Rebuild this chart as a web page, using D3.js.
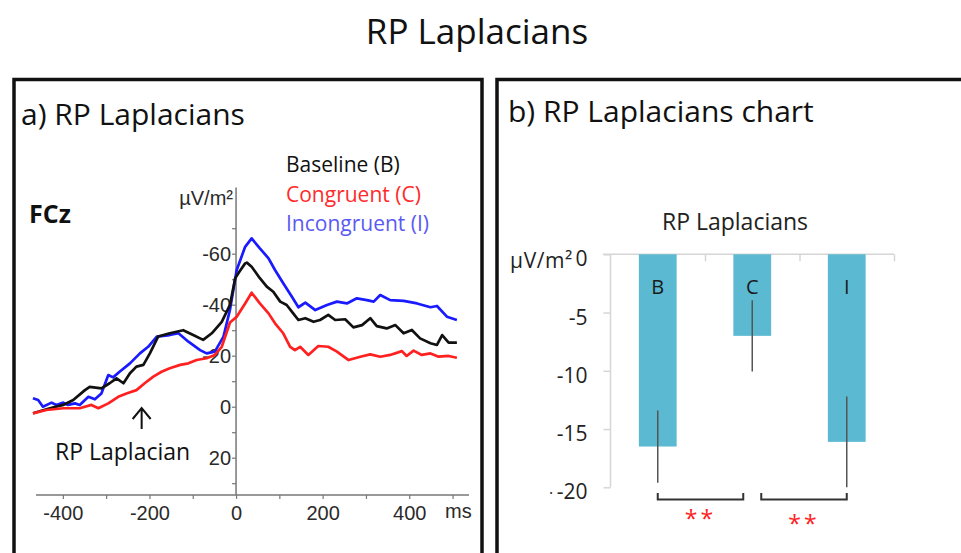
<!DOCTYPE html>
<html>
<head>
<meta charset="utf-8">
<script src="https://cdn.jsdelivr.net/npm/d3@7"></script>
<style>
  body { margin: 0; background: #fff; }
  svg { display: block; }
  text { font-family: "Open Sans", sans-serif; }
  .num text, text.num { font-family: "Liberation Sans", Arial, sans-serif; }
</style>
</head>
<body>
<svg id="chart" width="961" height="553"></svg>
<script>
// ---- data: RP Laplacian waveforms at FCz, [ms, µV/m²] (negative = up)
let baselineRP = [[-469, 2.6], [-430, 0.6], [-399, -0.7], [-376, -2.6], [-349, -6.5], [-338, -7.8], [-311, -7.2],
  [-292, -9.2], [-276, -11.1], [-260, -9.2], [-245, -13.1], [-230, -15.7], [-214, -16.4], [-199, -20.9],
  [-180, -27.5], [-153, -28.8], [-122, -30], [-99, -28.1], [-76, -26.2], [-56, -28.8], [-33, -33.3],
  [-14, -39.9], [-2, -50.4], [8, -53], [21, -56.2], [25, -56.5], [36, -54.9], [55, -50.4], [71, -47.1],
  [86, -45.1], [102, -41.2], [117, -39.9], [132, -36.6], [144, -34], [160, -34.7], [179, -33.3], [194, -34],
  [213, -36], [229, -34], [252, -34.3], [271, -31.1], [291, -32], [310, -34.7], [325, -31.6], [348, -30.7],
  [368, -32], [387, -28.8], [406, -30.1], [425, -26.8], [449, -24.9], [464, -24.2], [476, -28.1],
  [491, -25.1], [510, -25.1]];
let congruentRP = [[-469, 2.6], [-438, 1.3], [-399, 0.6], [-361, 0.6], [-334, -0.7], [-318, 0.6], [-295, -1.3],
  [-272, -3.9], [-253, -5.2], [-230, -6.5], [-211, -9.2], [-191, -11.8], [-172, -13.7], [-153, -15.1],
  [-129, -16.4], [-110, -17], [-91, -18.3], [-68, -19], [-49, -20.3], [-33, -23.5], [-14, -33], [1.5, -35.3],
  [21, -40.5], [36, -44.7], [55, -40.5], [75, -36.6], [90, -32.7], [109, -28.8], [125, -23.5], [136, -22.2],
  [148, -23.5], [167, -20.3], [190, -23.8], [213, -23.5], [233, -21.6], [260, -18.3], [287, -19.6],
  [310, -20.5], [333, -19.6], [356, -20.3], [383, -21.8], [394, -19.9], [410, -22], [429, -20.3],
  [449, -20.9], [468, -19.6], [491, -19.9], [510, -19.2]];
let incongruentRP = [[-469, -3.3], [-457, -2.6], [-446, 0], [-426, -1.6], [-415, -0.7], [-399, -1.6], [-388, -0.7],
  [-372, -1.3], [-361, -0.7], [-341, -3.9], [-326, -2.9], [-311, -5.2], [-295, -12.4], [-284, -11.5],
  [-269, -13.7], [-245, -17], [-222, -20.9], [-203, -23.5], [-183, -27.5], [-153, -28.1], [-133, -28.8],
  [-110, -25.5], [-83, -22.2], [-68, -20.9], [-49, -21.6], [-29, -27.5], [-14, -38], [1.5, -53.6],
  [21, -62.7], [36, -66], [55, -62.1], [75, -58.2], [90, -53.6], [109, -48.4], [129, -43.1], [144, -39],
  [160, -40.8], [183, -37.9], [210, -39.9], [233, -41.2], [256, -40.5], [279, -42.5], [302, -41.8],
  [318, -41.2], [333, -43.8], [356, -41.8], [387, -41.5], [418, -40.5], [449, -39], [464, -39.5],
  [487, -35.3], [510, -34]];
let seriesNames = ['Baseline (B)', 'Congruent (C)', 'Incongruent (I)'];
let msTicks = [-400, -300, -200, -100, 0, 100, 200, 300, 400, 500];
let uvTicks = [-70, -60, -50, -40, -30, -20, -10, 0, 10, 20, 30];

// ---- data: mean RP amplitude per condition
let categories = ['B', 'C', 'I'];
let barValues = [-16.5, -7.0, -16.1];
let barErrors = [3.1, 3.05, 3.9];
let barTicks = [0, -5, -10, -15, -20];

let svg = d3.select('#chart');
let lineColors = ['#111111', '#ff2020', '#1a1aff'];
let legendColors = ['#111111', '#ff2a2a', '#5a5af2'];

// main title + panel frames
svg.append('text').attr('x', 477).attr('y', 44).attr('text-anchor', 'middle')
  .style('font-size', '35px').attr('fill', '#111').text('RP Laplacians');
svg.append('rect').attr('x', 14).attr('y', 79.5).attr('width', 468).attr('height', 520)
  .attr('fill', 'none').attr('stroke', '#111').attr('stroke-width', 3.5);
svg.append('rect').attr('x', 497).attr('y', 79.5).attr('width', 520).attr('height', 520)
  .attr('fill', 'none').attr('stroke', '#111').attr('stroke-width', 3.5);
svg.append('text').attr('x', 21).attr('y', 125).style('font-size', '30px').attr('fill', '#111')
  .text('a) RP Laplacians');
svg.append('text').attr('x', 508).attr('y', 122).style('font-size', '30px').attr('fill', '#111')
  .text('b) RP Laplacians chart');

// ================= panel a: waveforms
let x = d3.scaleLinear().domain([-462, 538]).range([36, 469]);
let y = d3.scaleLinear().domain([-86, 34]).range([187.4, 493.4]);

let xAxis = svg.append('g').attr('class', 'num').attr('transform', 'translate(0,' + y(34.6) + ')')
  .call(d3.axisBottom(x).tickValues(msTicks).tickSize(4).tickPadding(7)
    .tickFormat(function(d){ return d % 200 === 0 ? String(d) : ''; }));
let yAxis = svg.append('g').attr('class', 'num').attr('transform', 'translate(' + x(0) + ',0)')
  .call(d3.axisLeft(y).tickValues(uvTicks).tickSize(4).tickPadding(1)
    .tickFormat(function(d){ return d % 20 === 0 ? String(d) : ''; }));
[xAxis, yAxis].forEach(function(g){
  g.select('.domain').attr('stroke', '#777').attr('stroke-width', 1.5);
  g.selectAll('.tick line').attr('stroke', '#777').attr('stroke-width', 1.2);
  g.selectAll('.tick text').attr('fill', '#2a2a2a').style('font-size', '20px');
});
yAxis.select('.domain').attr('d', 'M0,' + y(-86) + 'V' + y(34.6));
xAxis.select('.domain').attr('d', 'M' + x(-462) + ',0H' + x(538));

svg.append('text').attr('class', 'num').attr('x', 233).attr('y', 205).attr('text-anchor', 'end')
  .style('font-size', '20px').attr('fill', '#2a2a2a').text('µV/m²');
svg.append('text').attr('class', 'num').attr('x', 445).attr('y', 518)
  .style('font-size', '20px').attr('fill', '#2a2a2a').text('ms');

let line = d3.line()
  .x(function(d){ return x(d[0]); })
  .y(function(d){ return y(d[1]); });

let waves = [
  {values: incongruentRP, color: lineColors[2]},
  {values: baselineRP, color: lineColors[0]},
  {values: congruentRP, color: lineColors[1]}
];
svg.selectAll('path.wave')
  .data(waves)
  .enter()
  .append('path')
  .attr('class', 'wave')
  .attr('d', function(d){ return line(d.values); })
  .attr('fill', 'none')
  .attr('stroke', function(d){ return d.color; })
  .attr('stroke-width', 2.7)
  .attr('stroke-linejoin', 'round');

svg.append('text').attr('x', 29).attr('y', 223).style('font-size', '25px').style('font-weight', 'bold')
  .attr('fill', '#111').text('FCz');

svg.selectAll('text.legend')
  .data(seriesNames)
  .enter()
  .append('text')
  .attr('class', 'legend')
  .attr('x', 286)
  .attr('y', function(d, i){ return 172 + i * 29.5; })
  .style('font-size', '21px')
  .attr('fill', function(d, i){ return legendColors[i]; })
  .text(function(d){ return d; });

// RP Laplacian arrow + label
let ax = x(-218);
svg.append('path')
  .attr('d', 'M' + ax + ',429V408M' + (ax - 9) + ',419L' + ax + ',408L' + (ax + 9) + ',419')
  .attr('fill', 'none').attr('stroke', '#111').attr('stroke-width', 2);
svg.append('text').attr('x', 55).attr('y', 460).style('font-size', '23px').attr('fill', '#111')
  .text('RP Laplacian');

// ================= panel b: bar chart
let xb = d3.scaleBand().domain(categories).range([610.5, 894]).paddingInner(0.6).paddingOuter(0.3);
let yb = d3.scaleLinear().domain([0, -20]).range([254.3, 487.3]);

svg.append('text').attr('x', 735).attr('y', 230).attr('text-anchor', 'middle')
  .style('font-size', '23px').attr('fill', '#222').text('RP Laplacians');

let yAxisB = svg.append('g').attr('transform', 'translate(610.5,0)')
  .call(d3.axisLeft(yb).tickValues(barTicks).tickSize(7).tickPadding(16)
    .tickFormat(function(d){ return String(d); }));
yAxisB.select('.domain').attr('stroke', '#d6d6d6').attr('stroke-width', 1.5).attr('d', 'M0,' + yb(0) + 'V' + yb(-20));
yAxisB.selectAll('.tick line').attr('stroke', '#d6d6d6').attr('stroke-width', 1.5);
yAxisB.selectAll('.tick text').attr('fill', '#222').attr('dy', '0.55em').style('font-size', '21px')
  .style('font-family', '"Open Sans", sans-serif');

// zero line with category ticks
let zeroAxis = svg.append('g').attr('transform', 'translate(0,' + yb(0) + ')')
  .call(d3.axisBottom(d3.scaleLinear().domain([0, 3]).range([610.5, 894])).tickValues([1, 2, 3]).tickSize(7).tickFormat(''));
zeroAxis.select('.domain').attr('stroke', '#d6d6d6').attr('stroke-width', 1.5).attr('d', 'M603,0H894');
zeroAxis.selectAll('.tick line').attr('stroke', '#d6d6d6').attr('stroke-width', 1.5);

svg.append('text').attr('x', 573).attr('y', 268).attr('text-anchor', 'end')
  .style('font-size', '21px').style('letter-spacing', '0.6px').attr('fill', '#222').text('µV/m²');
svg.append('text').attr('x', 549).attr('y', 494).style('font-size', '16px').attr('fill', '#222').text('.');

svg.selectAll('rect.bar')
  .data(barValues)
  .enter()
  .append('rect')
  .attr('class', 'bar')
  .attr('x', function(d, i){ return xb(categories[i]); })
  .attr('y', yb(0))
  .attr('width', xb.bandwidth())
  .attr('height', function(d){ return yb(d) - yb(0); })
  .attr('fill', '#5bb9d2');

svg.selectAll('text.barlabel')
  .data(categories)
  .enter()
  .append('text')
  .attr('class', 'barlabel')
  .attr('x', function(d){ return xb(d) + xb.bandwidth() / 2; })
  .attr('y', 294)
  .attr('text-anchor', 'middle')
  .style('font-size', '20px')
  .attr('fill', '#1a1a1a')
  .text(function(d){ return d; });

svg.selectAll('line.err')
  .data(barValues)
  .enter()
  .append('line')
  .attr('class', 'err')
  .attr('x1', function(d, i){ return xb(categories[i]) + xb.bandwidth() / 2; })
  .attr('x2', function(d, i){ return xb(categories[i]) + xb.bandwidth() / 2; })
  .attr('y1', function(d, i){ return yb(d + barErrors[i]); })
  .attr('y2', function(d, i){ return yb(d - barErrors[i]); })
  .attr('stroke', '#555')
  .attr('stroke-width', 1.5);

// significance brackets
function cx(c){ return xb(c) + xb.bandwidth() / 2; }
let brackets = [[cx('B'), cx('C') - 9, 516], [cx('C') + 9, cx('I'), 521]];
brackets.forEach(function(b){
  svg.append('path')
    .attr('d', 'M' + b[0] + ',493V499.5H' + b[1] + 'V493')
    .attr('fill', 'none').attr('stroke', '#333').attr('stroke-width', 2);
  svg.append('text').attr('x', (b[0] + b[1]) / 2).attr('y', b[2] + 11).attr('text-anchor', 'middle')
    .style('font-size', '23px').style('letter-spacing', '3px').attr('fill', '#ff2020').text('**');
});
</script>
</body>
</html>
